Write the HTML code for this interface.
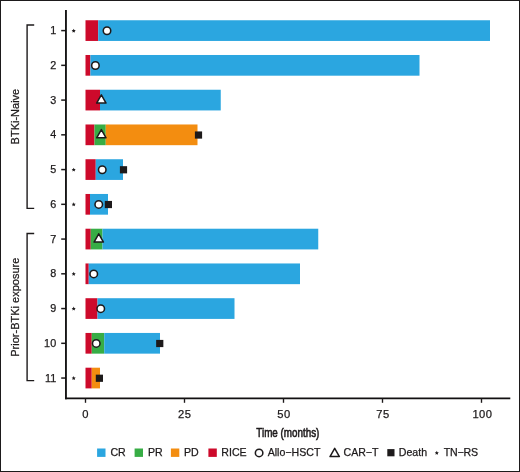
<!DOCTYPE html>
<html><head><meta charset="utf-8"><title>Swimmer plot</title>
<style>html,body{margin:0;padding:0;background:#fff}svg{display:block}</style></head>
<body>
<svg width="520" height="472" viewBox="0 0 520 472" font-family="Liberation Sans, Arial, Helvetica, sans-serif" fill="#1d1a1b">
<rect x="0.5" y="0.5" width="519" height="471" fill="#fff" stroke="#1d1a1b" stroke-width="1"/>
<rect x="85.50" y="20.25" width="12.70" height="20.70" fill="#cd0a2b"/>
<rect x="98.20" y="20.25" width="391.80" height="20.70" fill="#2ba6e0"/>
<circle cx="107.00" cy="30.70" r="3.75" fill="#fff" stroke="#1d1a1b" stroke-width="1.55"/>
<polygon points="73.70,28.65 74.33,29.93 75.74,30.14 74.72,31.13 74.96,32.54 73.70,31.88 72.44,32.54 72.68,31.13 71.66,30.14 73.07,29.93" fill="#1d1a1b"/>
<line x1="61.2" y1="30.60" x2="66" y2="30.60" stroke="#1d1a1b" stroke-width="1.5"/>
<text x="56.60" y="34.15" font-size="10.8" text-anchor="end" stroke="#1d1a1b" stroke-width="0.25" letter-spacing="0.25">1</text>
<rect x="85.50" y="54.99" width="4.90" height="20.70" fill="#cd0a2b"/>
<rect x="90.40" y="54.99" width="329.10" height="20.70" fill="#2ba6e0"/>
<circle cx="95.40" cy="65.44" r="3.75" fill="#fff" stroke="#1d1a1b" stroke-width="1.55"/>
<line x1="61.2" y1="65.34" x2="66" y2="65.34" stroke="#1d1a1b" stroke-width="1.5"/>
<text x="56.60" y="68.89" font-size="10.8" text-anchor="end" stroke="#1d1a1b" stroke-width="0.25" letter-spacing="0.25">2</text>
<rect x="85.50" y="89.74" width="14.50" height="20.70" fill="#cd0a2b"/>
<rect x="100.00" y="89.74" width="120.75" height="20.70" fill="#2ba6e0"/>
<polygon points="101.35,94.79 96.65,103.09 106.05,103.09" fill="#fff" stroke="#1d1a1b" stroke-width="1.5" stroke-linejoin="round"/>
<line x1="61.2" y1="100.09" x2="66" y2="100.09" stroke="#1d1a1b" stroke-width="1.5"/>
<text x="56.60" y="103.64" font-size="10.8" text-anchor="end" stroke="#1d1a1b" stroke-width="0.25" letter-spacing="0.25">3</text>
<rect x="85.50" y="124.48" width="9.00" height="20.70" fill="#cd0a2b"/>
<rect x="94.50" y="124.48" width="11.25" height="20.70" fill="#37ad45"/>
<rect x="105.75" y="124.48" width="91.75" height="20.70" fill="#f38d10"/>
<rect x="194.90" y="131.43" width="7.2" height="7.2" fill="#1d1a1b"/>
<polygon points="101.35,129.53 96.65,137.83 106.05,137.83" fill="#fff" stroke="#1d1a1b" stroke-width="1.5" stroke-linejoin="round"/>
<line x1="61.2" y1="134.83" x2="66" y2="134.83" stroke="#1d1a1b" stroke-width="1.5"/>
<text x="56.60" y="138.38" font-size="10.8" text-anchor="end" stroke="#1d1a1b" stroke-width="0.25" letter-spacing="0.25">4</text>
<rect x="85.50" y="159.23" width="10.25" height="20.70" fill="#cd0a2b"/>
<rect x="95.75" y="159.23" width="27.25" height="20.70" fill="#2ba6e0"/>
<rect x="119.90" y="166.18" width="7.2" height="7.2" fill="#1d1a1b"/>
<circle cx="102.25" cy="169.68" r="3.75" fill="#fff" stroke="#1d1a1b" stroke-width="1.55"/>
<polygon points="73.70,167.63 74.33,168.91 75.74,169.12 74.72,170.11 74.96,171.52 73.70,170.85 72.44,171.52 72.68,170.11 71.66,169.12 73.07,168.91" fill="#1d1a1b"/>
<line x1="61.2" y1="169.58" x2="66" y2="169.58" stroke="#1d1a1b" stroke-width="1.5"/>
<text x="56.60" y="173.13" font-size="10.8" text-anchor="end" stroke="#1d1a1b" stroke-width="0.25" letter-spacing="0.25">5</text>
<rect x="85.50" y="193.97" width="4.50" height="20.70" fill="#cd0a2b"/>
<rect x="90.00" y="193.97" width="18.00" height="20.70" fill="#2ba6e0"/>
<rect x="104.80" y="200.92" width="7.2" height="7.2" fill="#1d1a1b"/>
<circle cx="98.75" cy="204.42" r="3.75" fill="#fff" stroke="#1d1a1b" stroke-width="1.55"/>
<polygon points="73.70,202.37 74.33,203.66 75.74,203.86 74.72,204.86 74.96,206.26 73.70,205.60 72.44,206.26 72.68,204.86 71.66,203.86 73.07,203.66" fill="#1d1a1b"/>
<line x1="61.2" y1="204.32" x2="66" y2="204.32" stroke="#1d1a1b" stroke-width="1.5"/>
<text x="56.60" y="207.88" font-size="10.8" text-anchor="end" stroke="#1d1a1b" stroke-width="0.25" letter-spacing="0.25">6</text>
<rect x="85.50" y="228.72" width="5.25" height="20.70" fill="#cd0a2b"/>
<rect x="90.75" y="228.72" width="11.75" height="20.70" fill="#37ad45"/>
<rect x="102.50" y="228.72" width="215.75" height="20.70" fill="#2ba6e0"/>
<polygon points="98.75,233.77 94.05,242.07 103.45,242.07" fill="#fff" stroke="#1d1a1b" stroke-width="1.5" stroke-linejoin="round"/>
<line x1="61.2" y1="239.07" x2="66" y2="239.07" stroke="#1d1a1b" stroke-width="1.5"/>
<text x="56.60" y="242.62" font-size="10.8" text-anchor="end" stroke="#1d1a1b" stroke-width="0.25" letter-spacing="0.25">7</text>
<rect x="85.50" y="263.46" width="3.25" height="20.70" fill="#cd0a2b"/>
<rect x="88.75" y="263.46" width="211.25" height="20.70" fill="#2ba6e0"/>
<circle cx="93.75" cy="273.92" r="3.75" fill="#fff" stroke="#1d1a1b" stroke-width="1.55"/>
<polygon points="73.70,271.87 74.33,273.15 75.74,273.35 74.72,274.35 74.96,275.75 73.70,275.09 72.44,275.75 72.68,274.35 71.66,273.35 73.07,273.15" fill="#1d1a1b"/>
<line x1="61.2" y1="273.81" x2="66" y2="273.81" stroke="#1d1a1b" stroke-width="1.5"/>
<text x="56.60" y="277.37" font-size="10.8" text-anchor="end" stroke="#1d1a1b" stroke-width="0.25" letter-spacing="0.25">8</text>
<rect x="85.50" y="298.21" width="12.00" height="20.70" fill="#cd0a2b"/>
<rect x="97.50" y="298.21" width="137.00" height="20.70" fill="#2ba6e0"/>
<circle cx="100.75" cy="308.66" r="3.75" fill="#fff" stroke="#1d1a1b" stroke-width="1.55"/>
<polygon points="73.70,306.61 74.33,307.89 75.74,308.10 74.72,309.09 74.96,310.50 73.70,309.83 72.44,310.50 72.68,309.09 71.66,308.10 73.07,307.89" fill="#1d1a1b"/>
<line x1="61.2" y1="308.56" x2="66" y2="308.56" stroke="#1d1a1b" stroke-width="1.5"/>
<text x="56.60" y="312.11" font-size="10.8" text-anchor="end" stroke="#1d1a1b" stroke-width="0.25" letter-spacing="0.25">9</text>
<rect x="85.50" y="332.95" width="6.25" height="20.70" fill="#cd0a2b"/>
<rect x="91.75" y="332.95" width="12.50" height="20.70" fill="#37ad45"/>
<rect x="104.25" y="332.95" width="55.75" height="20.70" fill="#2ba6e0"/>
<rect x="156.15" y="339.90" width="7.2" height="7.2" fill="#1d1a1b"/>
<circle cx="96.25" cy="343.41" r="3.75" fill="#fff" stroke="#1d1a1b" stroke-width="1.55"/>
<line x1="61.2" y1="343.31" x2="66" y2="343.31" stroke="#1d1a1b" stroke-width="1.5"/>
<text x="56.60" y="346.86" font-size="10.8" text-anchor="end" stroke="#1d1a1b" stroke-width="0.25" letter-spacing="0.25">10</text>
<rect x="85.50" y="367.70" width="6.25" height="20.70" fill="#cd0a2b"/>
<rect x="91.75" y="367.70" width="8.25" height="20.70" fill="#f38d10"/>
<rect x="95.80" y="374.65" width="7.2" height="7.2" fill="#1d1a1b"/>
<polygon points="73.70,376.10 74.33,377.38 75.74,377.59 74.72,378.58 74.96,379.99 73.70,379.32 72.44,379.99 72.68,378.58 71.66,377.59 73.07,377.38" fill="#1d1a1b"/>
<line x1="61.2" y1="378.05" x2="66" y2="378.05" stroke="#1d1a1b" stroke-width="1.5"/>
<text x="56.60" y="381.60" font-size="10.8" text-anchor="end" stroke="#1d1a1b" stroke-width="0.25" letter-spacing="0.25">11</text>
<line x1="65.95" y1="10" x2="65.95" y2="399.25" stroke="#121011" stroke-width="1.85"/>
<line x1="65.03" y1="398.4" x2="510.3" y2="398.4" stroke="#121011" stroke-width="1.7"/>
<line x1="85.50" y1="398.45" x2="85.50" y2="402.8" stroke="#1d1a1b" stroke-width="1.35"/>
<text x="85.60" y="417.60" font-size="11.2" text-anchor="middle" stroke="#1d1a1b" stroke-width="0.25" letter-spacing="0.45">0</text>
<line x1="184.50" y1="398.45" x2="184.50" y2="402.8" stroke="#1d1a1b" stroke-width="1.35"/>
<text x="184.80" y="417.60" font-size="11.2" text-anchor="middle" stroke="#1d1a1b" stroke-width="0.25" letter-spacing="0.45">25</text>
<line x1="283.50" y1="398.45" x2="283.50" y2="402.8" stroke="#1d1a1b" stroke-width="1.35"/>
<text x="283.90" y="417.60" font-size="11.2" text-anchor="middle" stroke="#1d1a1b" stroke-width="0.25" letter-spacing="0.45">50</text>
<line x1="382.50" y1="398.45" x2="382.50" y2="402.8" stroke="#1d1a1b" stroke-width="1.35"/>
<text x="382.90" y="417.60" font-size="11.2" text-anchor="middle" stroke="#1d1a1b" stroke-width="0.25" letter-spacing="0.45">75</text>
<line x1="481.50" y1="398.45" x2="481.50" y2="402.8" stroke="#1d1a1b" stroke-width="1.35"/>
<text x="482.40" y="417.60" font-size="11.2" text-anchor="middle" stroke="#1d1a1b" stroke-width="0.25" letter-spacing="0.45">100</text>
<text transform="translate(287.85,436.6) scale(0.757,1)" font-size="13" text-anchor="middle" stroke="#1d1a1b" stroke-width="0.6">Time (months)</text>
<polyline points="34.2,25.00 27.1,25.00 27.1,208.40 34.2,208.40" fill="none" stroke="#1d1a1b" stroke-width="1.4"/>
<polyline points="34.2,233.50 27.1,233.50 27.1,380.60 34.2,380.60" fill="none" stroke="#1d1a1b" stroke-width="1.4"/>
<text transform="translate(19.1,116.6) rotate(-90)" font-size="11" text-anchor="middle" stroke="#1d1a1b" stroke-width="0.25">BTKi-Naive</text>
<text transform="translate(19.1,307.2) rotate(-90)" font-size="11" text-anchor="middle" stroke="#1d1a1b" stroke-width="0.25">Prior-BTKi exposure</text>
<rect x="97.10" y="448.50" width="8.4" height="8.4" fill="#2ba6e0"/>
<text x="110.40" y="456.45" font-size="10.6" stroke="#1d1a1b" stroke-width="0.25">CR</text>
<rect x="134.60" y="448.50" width="8.4" height="8.4" fill="#37ad45"/>
<text x="147.90" y="456.45" font-size="10.6" stroke="#1d1a1b" stroke-width="0.25">PR</text>
<rect x="170.90" y="448.50" width="8.4" height="8.4" fill="#f38d10"/>
<text x="183.90" y="456.45" font-size="10.6" stroke="#1d1a1b" stroke-width="0.25">PD</text>
<rect x="208.40" y="448.50" width="8.4" height="8.4" fill="#cd0a2b"/>
<text x="221.30" y="456.45" font-size="10.6" stroke="#1d1a1b" stroke-width="0.25">RICE</text>
<circle cx="259.10" cy="452.90" r="3.75" fill="#fff" stroke="#1d1a1b" stroke-width="1.55"/>
<text x="267.70" y="456.45" font-size="10.6" stroke="#1d1a1b" stroke-width="0.25">Allo−HSCT</text>
<polygon points="334.70,448.30 330.00,456.60 339.40,456.60" fill="#fff" stroke="#1d1a1b" stroke-width="1.5" stroke-linejoin="round"/>
<text x="343.50" y="456.45" font-size="10.6" stroke="#1d1a1b" stroke-width="0.25">CAR−T</text>
<rect x="387.30" y="449.10" width="7.2" height="7.2" fill="#1d1a1b"/>
<text x="398.80" y="456.45" font-size="10.6" stroke="#1d1a1b" stroke-width="0.25">Death</text>
<polygon points="436.80,450.85 437.43,452.13 438.84,452.34 437.82,453.33 438.06,454.74 436.80,454.07 435.54,454.74 435.78,453.33 434.76,452.34 436.17,452.13" fill="#1d1a1b"/>
<text x="443.70" y="456.45" font-size="10.6" stroke="#1d1a1b" stroke-width="0.25" letter-spacing="-0.15">TN−RS</text>
</svg>
</body></html>
